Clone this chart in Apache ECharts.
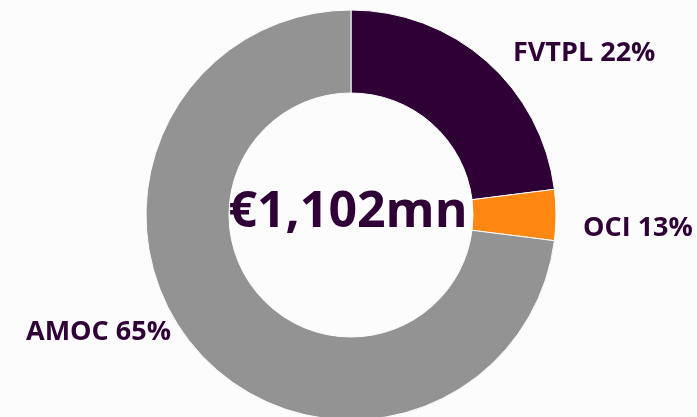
<!DOCTYPE html>
<html>
<head>
<meta charset="utf-8">
<script src="https://cdn.jsdelivr.net/npm/echarts@6/dist/echarts.min.js"></script>
<style>
  html, body { margin: 0; padding: 0; background: #fcfcfc; }
  #chart { width: 697px; height: 417px; }
</style>
</head>
<body>
<div id="chart"></div>
<script>
  // slice sizes as drawn, and the percent text printed beside them
  var categories = ['FVTPL', 'OCI', 'AMOC'];
  var sliceValues = [23, 4, 73];
  var labelPercents = ['22%', '13%', '65%'];
  var sliceColors = ['#2e0036', '#ff8712', '#939393'];
  var totalText = '€1,102mn';

  // where each label sits (left edge, vertical middle)
  var labelPos = [[513, 53], [583, 228], [26, 332]];

  var myChart = echarts.init(document.getElementById('chart'));

  var data = categories.map(function (name, i) {
    return {
      name: name,
      value: sliceValues[i],
      pct: labelPercents[i],
      itemStyle: { color: sliceColors[i] }
    };
  });

  var option = {
    backgroundColor: '#fcfcfc',
    animation: false,
    graphic: [{
      type: 'text',
      x: 348,
      y: 213,
      style: {
        text: totalText,
        fill: '#2e0036',
        font: 'bold 50px "Open Sans"',
        textAlign: 'center',
        textVerticalAlign: 'middle'
      }
    }],
    series: [{
      type: 'pie',
      center: [351, 215],
      radius: [122, 205],
      startAngle: 90,
      clockwise: true,
      avoidLabelOverlap: false,
      data: data,
      itemStyle: {
        borderColor: '#fcfcfc',
        borderWidth: 1
      },
      label: {
        show: true,
        position: 'outside',
        formatter: function (p) {
          return p.name + ' ' + p.data.pct;
        },
        color: '#2e0036',
        fontFamily: 'Open Sans',
        fontWeight: 'bold',
        fontSize: 27
      },
      labelLine: { show: false },
      labelLayout: function (params) {
        var pos = labelPos[params.dataIndex];
        return {
          x: pos[0],
          y: pos[1],
          align: 'left',
          verticalAlign: 'middle'
        };
      }
    }]
  };

  myChart.setOption(option);
</script>
</body>
</html>
